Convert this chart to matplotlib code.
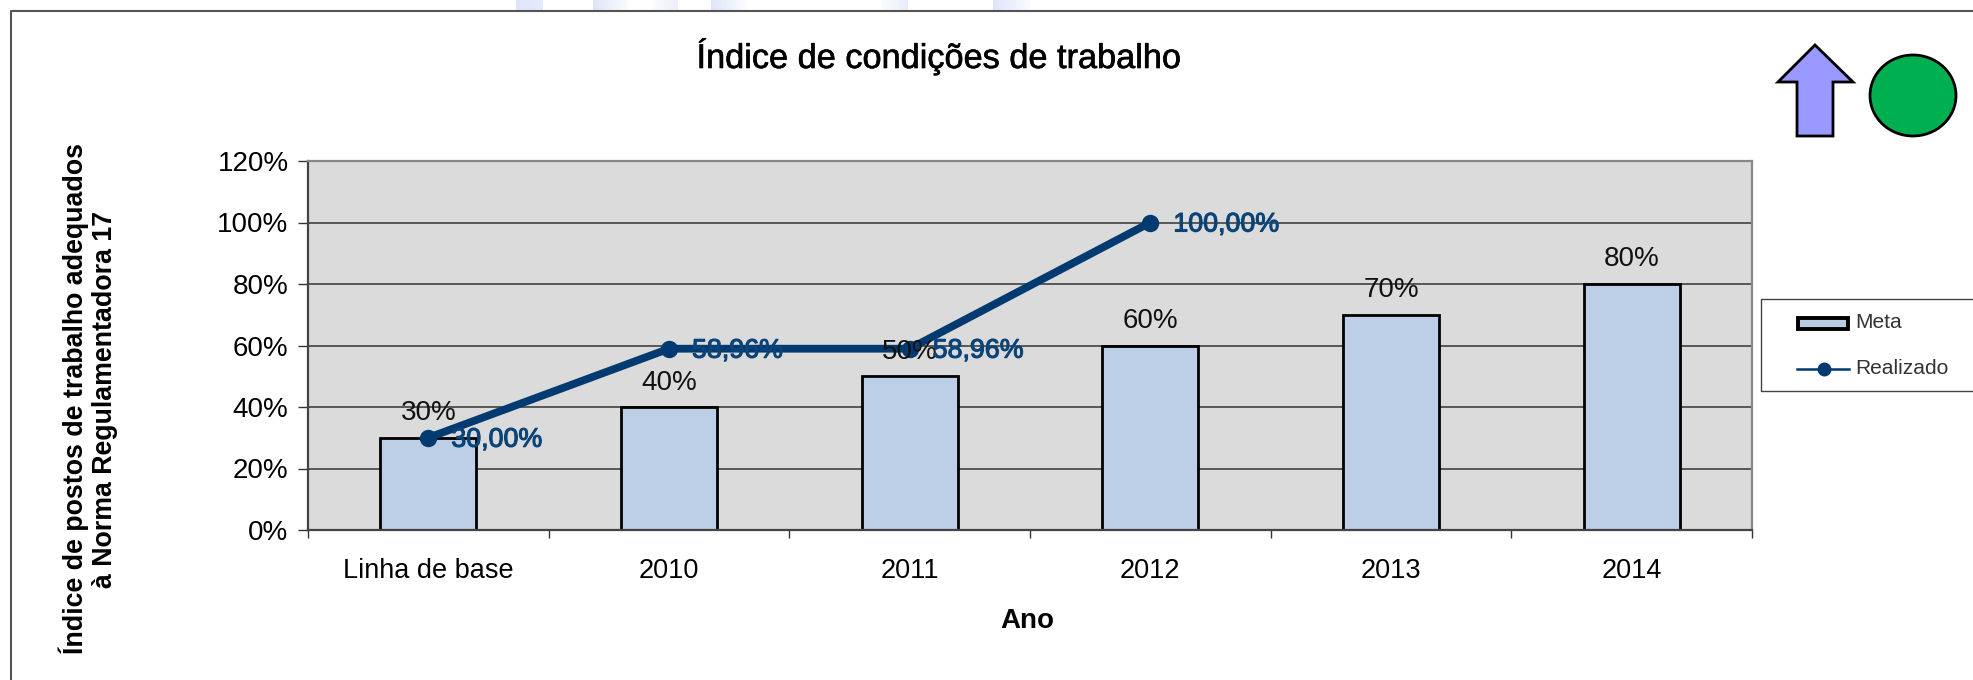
import matplotlib
matplotlib.use("Agg")
import matplotlib.pyplot as plt
import matplotlib.patheffects as pe
from matplotlib.patches import Polygon, Ellipse, Rectangle
from matplotlib.lines import Line2D

W, H = 1973, 680
categories = ["Linha de base", "2010", "2011", "2012", "2013", "2014"]
meta = [30, 40, 50, 60, 70, 80]
realizado = [30, 58.96, 58.96, 100]
meta_labels = ["30%", "40%", "50%", "60%", "70%", "80%"]
realizado_labels = ["30,00%", "58,96%", "58,96%", "100,00%"]
yticks = [0, 20, 40, 60, 80, 100, 120]

plt.rcParams['font.family'] = ['Liberation Sans', 'DejaVu Sans']
fig = plt.figure(figsize=(W/100, H/100), dpi=100, facecolor='white')

def fx(x): return x / W
def fy(y): return 1 - y / H

heavy = [pe.withStroke(linewidth=0.45, foreground='black')]
heavy_blue = [pe.withStroke(linewidth=0.8, foreground='#0a4478')]

ov = fig.add_axes([0, 0, 1, 1], zorder=0)
ov.set_xlim(0, W); ov.set_ylim(H, 0); ov.axis('off')
# faint background shapes above the frame: (start, end, alpha at start, alpha at end)
for x0, x1, a0, a1 in [(516, 543, 1, 0.8), (593, 628, 1, 0.1), (653, 678, 0.1, 0.6),
                       (711, 746, 1, 0.1), (881, 908, 0.1, 0.7), (993, 1031, 1, 0.1)]:
    n = x1 - x0
    for k in range(n):
        ov.add_patch(Rectangle((x0 + k, 0), 1, 10, fc='#dfe5fb', ec='none',
                               alpha=a0 + (a1 - a0) * k / n))
ov.plot([10.5, 10.5, W], [H, 11, 11], color='#555555', lw=1.5, solid_capstyle='butt')
ov.add_patch(Polygon([(1815, 45), (1853, 82), (1833, 82), (1833, 136), (1797, 136), (1797, 82), (1778, 82)],
                     closed=True, fc='#9999ff', ec='black', lw=2, joinstyle='miter'))
ov.add_patch(Ellipse((1913, 95.5), 86, 81, fc='#00b050', ec='black', lw=2))
ov.text(938, 57, "Índice de condições de trabalho", ha='center', va='center', fontsize=24.7,
        path_effects=heavy)
ov.text(88, 399, "Índice de postos de trabalho adequados\nà Norma Regulamentadora 17", rotation=90,
        ha='center', va='center', fontsize=19.3, fontweight='bold', linespacing=1.15, multialignment='center')
ov.text(1027, 621, "Ano", ha='center', va='center', fontsize=20, fontweight='bold')
ov.plot([W, 1761, 1761, W], [299, 299, 391, 391], color='#444444', lw=1)
ov.add_patch(Rectangle((1798, 318), 50, 10.5, fc='#b8cce4', ec='black', lw=2.8))
ov.add_line(Line2D([1797, 1849], [369, 369], color='#003a70', lw=1.8))
ov.plot([1823.5], [369], 'o', color='#003a70', ms=9)
ov.text(1855, 322, "Meta", ha='left', va='center', fontsize=15.1, color='#333333')
ov.text(1855, 369, "Realizado", ha='left', va='center', fontsize=15.1, color='#333333')

ax = fig.add_axes([fx(308), fy(530), (1752-308)/W, (530-161)/H], zorder=1)
ax.set_facecolor('#dbdbdb')
x = list(range(len(categories)))
ax.set_axisbelow(True)
ax.yaxis.grid(True, color='#333333', lw=1.1)
ax.bar(x, meta, width=0.4, color='#bccfe7', edgecolor='black', linewidth=2, zorder=2)
ax.plot(x[:len(realizado)], realizado, color='#003a70', lw=5.6, marker='o', ms=11.5, zorder=3,
        solid_joinstyle='round', solid_capstyle='round')
for i, v in enumerate(meta):
    ax.annotate(meta_labels[i], (i, v), xytext=(0, 24.5), textcoords='offset pixels', ha='center', va='center',
                fontsize=20, color='#111111', zorder=4)
for i, v in enumerate(realizado):
    ax.annotate(realizado_labels[i], (i, v), xytext=(23, -2), textcoords='offset pixels', ha='left', va='center',
                fontsize=19.3, color='#0a4478', zorder=4, path_effects=heavy_blue)
ax.set_xlim(-0.5, 5.5); ax.set_ylim(0, 120)
ax.set_yticks(yticks); ax.set_yticklabels([f"{t}%" for t in yticks], fontsize=20)
ax.set_xticks([i-0.5 for i in range(7)]); ax.set_xticklabels([])
ax.set_xticks(x, minor=True); ax.set_xticklabels(categories, minor=True, fontsize=19.5)
ax.tick_params(axis='x', which='minor', length=0, pad=20)
ax.tick_params(axis='x', which='major', length=6, width=1, color='#333333')
ax.tick_params(axis='y', length=7, width=1, color='#333333', pad=7)
for s in ('top', 'right'):
    ax.spines[s].set_color('#888888'); ax.spines[s].set_linewidth(1.6)
for s in ('left', 'bottom'):
    ax.spines[s].set_color('#444444'); ax.spines[s].set_linewidth(1.6)
fig.savefig("out.png", dpi=100)
